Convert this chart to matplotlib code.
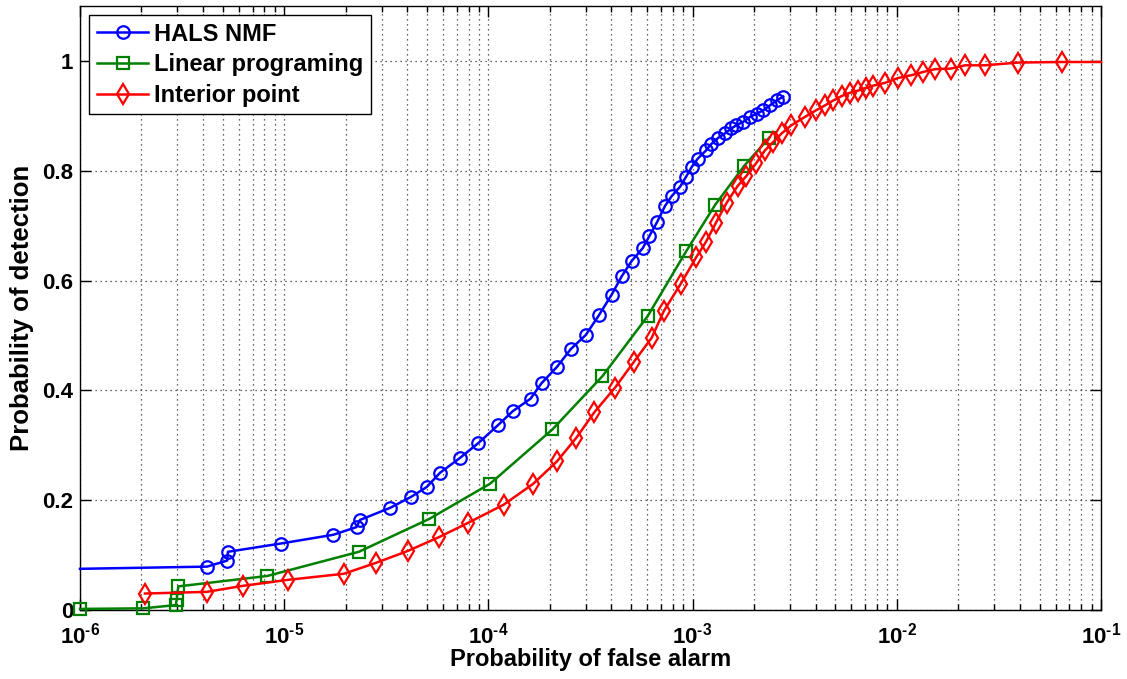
import matplotlib
matplotlib.use("Agg")
import matplotlib.pyplot as plt
import numpy as np

plt.rcParams['font.family'] = ['Liberation Sans', 'DejaVu Sans']
plt.rcParams['font.weight'] = 'bold'
plt.rcParams['mathtext.fontset'] = 'custom'
plt.rcParams['mathtext.rm'] = 'Liberation Sans:bold'
plt.rcParams['mathtext.bf'] = 'Liberation Sans:bold'
plt.rcParams['mathtext.default'] = 'bf'

# ---- data ----
hals_pfa = [1.0e-6, 4.19e-6, 5.26e-6, 5.30e-6, 9.6e-6, 1.74e-5, 2.26e-5, 2.35e-5,
            3.30e-5, 4.18e-5, 4.99e-5, 5.80e-5, 7.26e-5, 8.93e-5, 1.117e-4, 1.315e-4,
            1.61e-4, 1.82e-4, 2.17e-4, 2.53e-4, 3.0e-4, 3.48e-4, 4.01e-4, 4.50e-4,
            5.04e-4, 5.70e-4, 6.14e-4, 6.71e-4, 7.33e-4, 7.91e-4, 8.69e-4, 9.29e-4,
            9.91e-4, 1.06e-3, 1.164e-3, 1.23e-3, 1.336e-3, 1.44e-3, 1.55e-3, 1.64e-3,
            1.77e-3, 1.91e-3, 2.06e-3, 2.22e-3, 2.39e-3, 2.58e-3, 2.78e-3]
hals_pd = [0.075, 0.079, 0.090, 0.106, 0.121, 0.137, 0.151, 0.164,
           0.186, 0.206, 0.224, 0.250, 0.277, 0.304, 0.337, 0.362,
           0.385, 0.413, 0.443, 0.475, 0.501, 0.537, 0.574, 0.608,
           0.636, 0.659, 0.681, 0.707, 0.736, 0.754, 0.771, 0.789,
           0.807, 0.822, 0.837, 0.848, 0.860, 0.868, 0.877, 0.883,
           0.889, 0.898, 0.904, 0.910, 0.919, 0.928, 0.935]

lp_pfa = [1.0e-6, 2.04e-6, 2.95e-6, 2.97e-6, 3.03e-6, 8.26e-6, 2.32e-5, 5.14e-5,
          1.019e-4, 2.06e-4, 3.62e-4, 6.02e-4, 9.29e-4, 1.29e-3, 1.79e-3, 2.37e-3]
lp_pd = [0.002, 0.003, 0.009, 0.018, 0.043, 0.062, 0.106, 0.166,
         0.230, 0.329, 0.426, 0.535, 0.653, 0.738, 0.809, 0.860]

ip_pfa = [2.08e-6, 4.17e-6, 6.27e-6, 1.047e-5, 1.96e-5, 2.82e-5, 4.06e-5, 5.75e-5,
          7.98e-5, 1.19e-4, 1.66e-4, 2.17e-4, 2.70e-4, 3.30e-4, 4.17e-4, 5.16e-4,
          6.31e-4, 7.24e-4, 8.75e-4, 1.04e-3, 1.165e-3, 1.30e-3, 1.47e-3, 1.66e-3,
          1.83e-3, 2.05e-3, 2.26e-3, 2.48e-3, 2.73e-3, 3.05e-3, 3.55e-3, 4.02e-3,
          4.45e-3, 4.89e-3, 5.37e-3, 5.90e-3, 6.47e-3, 7.06e-3, 7.67e-3, 8.75e-3,
          1.016e-2, 1.18e-2, 1.35e-2, 1.54e-2, 1.84e-2, 2.16e-2, 2.70e-2, 3.94e-2,
          6.43e-2, 1.0e-1]
ip_pd = [0.030, 0.033, 0.044, 0.055, 0.066, 0.086, 0.108, 0.133,
         0.159, 0.192, 0.230, 0.271, 0.314, 0.360, 0.405, 0.452,
         0.496, 0.545, 0.594, 0.642, 0.671, 0.705, 0.742, 0.772,
         0.790, 0.814, 0.837, 0.852, 0.868, 0.883, 0.898, 0.910,
         0.919, 0.928, 0.936, 0.942, 0.946, 0.951, 0.955, 0.960,
         0.969, 0.974, 0.980, 0.985, 0.986, 0.992, 0.992, 0.997,
         0.998, 0.998]

labels = ["HALS NMF", "Linear programing", "Interior point"]
xticks = [1e-6, 1e-5, 1e-4, 1e-3, 1e-2, 1e-1]
xticklabels = [r"10$^{\text{-6}}$", r"10$^{\text{-5}}$", r"10$^{\text{-4}}$",
               r"10$^{\text{-3}}$", r"10$^{\text{-2}}$", r"10$^{\text{-1}}$"]
yticks = [0, 0.2, 0.4, 0.6, 0.8, 1.0]
yticklabels = ["0", "0.2", "0.4", "0.6", "0.8", "1"]

fig = plt.figure(figsize=(11.27, 6.79), dpi=100)
ax = fig.add_axes([80/1127, 1 - 610/679, (1101-80)/1127, (610-6)/679])

lw = 1.8
mew = 1.6
ax.plot(hals_pfa, hals_pd, color=(0, 0, 1), lw=lw, marker='o', ms=9, mfc='none', mew=mew,
        markevery=list(range(1, len(hals_pfa))), label=labels[0], clip_on=False, zorder=3)
ax.plot(lp_pfa, lp_pd, color=(0, 0.5, 0), lw=lw, marker='s', ms=8, mfc='none', mew=mew,
        label=labels[1], clip_on=False, zorder=3)
ax.plot(ip_pfa, ip_pd, color=(1, 0, 0), lw=lw, marker='d', ms=10.5, mfc='none', mew=mew,
        markevery=list(range(0, len(ip_pfa) - 1)), label=labels[2], clip_on=False, zorder=3)

ax.set_xscale('log')
ax.set_xlim(1e-6, 1e-1)
ax.set_ylim(0, 1.1)
ax.set_xticks(xticks)
ax.set_xticklabels(xticklabels)
ax.set_yticks(yticks)
ax.set_yticklabels(yticklabels)

ax.grid(True, which='major', axis='both', linestyle=(0, (1, 3)), color='#333333', lw=0.9)
ax.grid(True, which='minor', axis='x', linestyle=(0, (1, 3)), color='#333333', lw=0.9)

ax.tick_params(axis='both', which='both', direction='in', top=True, right=True,
               labelsize=16, width=1, colors='black')
ax.tick_params(axis='both', which='major', length=8)
ax.tick_params(axis='x', which='major', pad=9)
ax.tick_params(axis='y', which='major', pad=5)
ax.tick_params(axis='both', which='minor', length=4)
for lab in ax.get_xticklabels() + ax.get_yticklabels():
    lab.set_fontweight('bold')
for sp in ax.spines.values():
    sp.set_linewidth(1.0)

ax.set_xlabel("Probability of false alarm", fontsize=17, fontweight='bold', labelpad=0)
ax.set_ylabel("Probability of detection", fontsize=18.5, fontweight='bold', labelpad=6)

leg = ax.legend(loc='upper left', fontsize=17, frameon=True, fancybox=False,
                edgecolor='black', framealpha=1, handlelength=2.2, handletextpad=0.25,
                borderpad=0.3, labelspacing=0.33, borderaxespad=0.4)
leg.get_frame().set_linewidth(1.0)
for t in leg.get_texts():
    t.set_fontweight('bold')

fig.savefig("out.png", dpi=100)
